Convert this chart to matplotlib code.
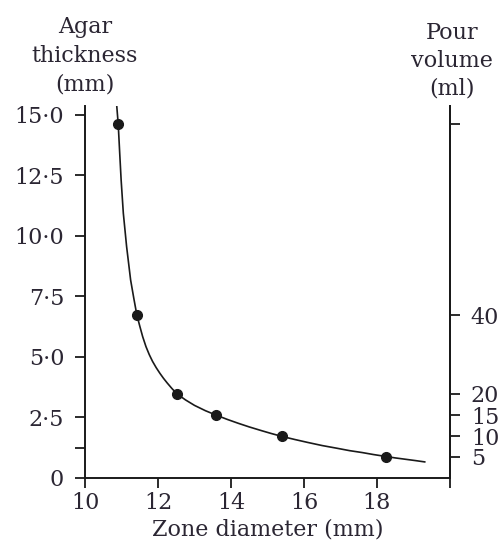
import matplotlib
matplotlib.use("Agg")
import matplotlib.pyplot as plt

# Data
zone_diameter = [10.91, 11.42, 12.52, 13.60, 15.39, 18.24]
agar_thickness = [14.62, 6.73, 3.48, 2.60, 1.72, 0.88]

curve_x = [10.87, 10.91, 10.95, 10.99, 11.05, 11.14, 11.25, 11.34, 11.42, 11.50,
           11.58, 11.67, 11.76, 11.85, 11.95, 12.05, 12.15, 12.25, 12.38, 12.51,
           12.75, 13.00, 13.30, 13.59, 13.90, 14.20, 14.50, 14.85, 15.10, 15.39,
           15.75, 16.10, 16.50, 16.90, 17.25, 17.60, 17.90, 18.24, 18.50, 18.80,
           19.05, 19.33]
curve_y = [15.37, 14.62, 13.45, 12.31, 10.94, 9.56, 8.18, 7.40, 6.74, 6.28,
           5.84, 5.43, 5.10, 4.82, 4.56, 4.33, 4.12, 3.93, 3.70, 3.49,
           3.23, 3.00, 2.78, 2.60, 2.42, 2.26, 2.11, 1.95, 1.84, 1.72,
           1.59, 1.47, 1.34, 1.23, 1.13, 1.05, 0.97, 0.89, 0.83, 0.77,
           0.72, 0.66]

x_ticks = [10, 12, 14, 16, 18, 20]
x_tick_labels = ["10", "12", "14", "16", "18", ""]
y_ticks = [0, 1.25, 2.5, 5.0, 7.5, 10.0, 12.5, 15.0]
y_tick_labels = ["0", "", "2\u00b75", "5\u00b70", "7\u00b75", "10\u00b70", "12\u00b75", "15\u00b70"]
pour_volume_labels = ["", "40", "20", "15", "10", "5"]

FONT = ["DejaVu Serif"]
TXT = "#2b2633"
INK = "#1a1a1a"
FS = 16

plt.rcParams["font.family"] = FONT

fig = plt.figure(figsize=(5.04, 5.42), dpi=100)
ax = fig.add_axes([85 / 504, 1 - 478 / 542, 365 / 504, 372 / 542])

ax.plot(curve_x, curve_y, color=INK, lw=1.2, solid_capstyle="butt")
ax.plot(zone_diameter, agar_thickness, "o", color=INK, ms=7, mec=INK)

ax.set_xlim(10, 20)
ax.set_ylim(0, 15.37)

ax.spines["top"].set_visible(False)
for s in ("left", "right", "bottom"):
    ax.spines[s].set_linewidth(1.4)
    ax.spines[s].set_color(INK)

ax.set_xticks(x_ticks)
ax.set_xticklabels(x_tick_labels)
ax.set_yticks(y_ticks)
ax.set_yticklabels(y_tick_labels)
ax.tick_params(axis="x", direction="out", length=7, width=1.3, pad=3,
               labelsize=FS, colors=INK, labelcolor=TXT)
ax.tick_params(axis="y", direction="out", length=7, width=1.3, pad=8,
               labelsize=FS, colors=INK, labelcolor=TXT)

ax2 = ax.twinx()
ax2.set_ylim(ax.get_ylim())
for s in ("top", "left", "bottom"):
    ax2.spines[s].set_visible(False)
ax2.spines["right"].set_linewidth(1.4)
ax2.spines["right"].set_color(INK)
ax2.set_yticks(agar_thickness)
ax2.set_yticklabels(pour_volume_labels)
ax2.tick_params(axis="y", direction="out", length=7, width=1.3, pad=8,
                labelsize=FS, colors=INK, labelcolor=TXT)

ax.set_xlabel("Zone diameter (mm)", fontsize=FS, color=TXT, labelpad=3)

fig.text(85 / 504, 1 - 56 / 542, "Agar\nthickness\n(mm)", ha="center", va="center",
         fontsize=FS, color=TXT, linespacing=1.4)
fig.text(452 / 504, 1 - 61 / 542, "Pour\nvolume\n(ml)", ha="center", va="center",
         fontsize=FS, color=TXT, linespacing=1.35)

fig.savefig("out.png", dpi=100)
